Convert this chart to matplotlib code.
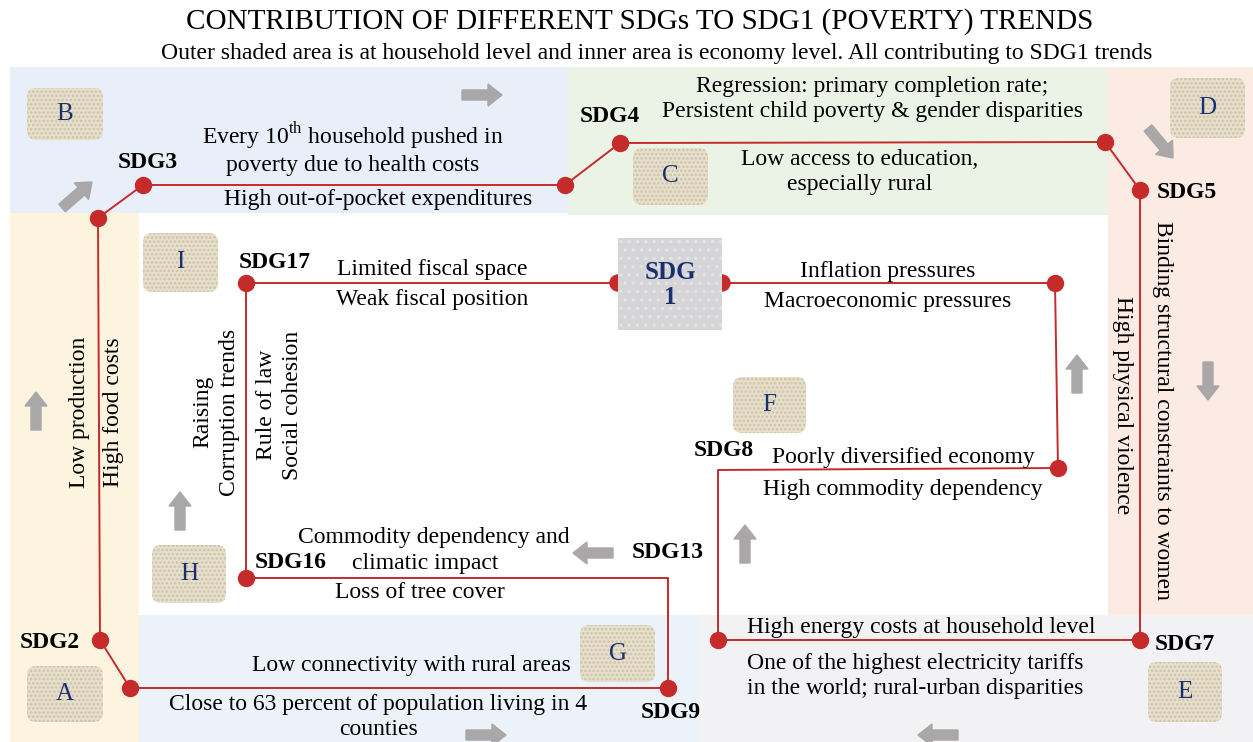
"""
SDG contribution diagram: paths from SDGs toward SDG1 (poverty) trends.
"""

import matplotlib
matplotlib.use("Agg")
import matplotlib.pyplot as plt
from matplotlib.patches import Rectangle, FancyBboxPatch, FancyArrow, Wedge

plt.rcParams["font.family"] = ["Liberation Serif", "DejaVu Serif"]
plt.rcParams["mathtext.fontset"] = "custom"
plt.rcParams["mathtext.rm"] = "Liberation Serif"
plt.rcParams["hatch.linewidth"] = 1.2

W, H = 1253, 742

title = "CONTRIBUTION OF DIFFERENT SDGs TO SDG1 (POVERTY) TRENDS"
subtitle = ("Outer shaded area is at household level and inner area is economy level. "
            "All contributing to SDG1 trends")

# shaded zones: (x0, y0, x1, y1, colour)
zones = [
    (10, 67, 568, 213, "#e8eff9"),
    (568, 67, 1108, 215, "#ebf3e6"),
    (1108, 67, 1253, 615, "#fcebe3"),
    (10, 213, 139, 742, "#fdf4df"),
    (139, 615, 700, 742, "#ecf2fa"),
    (700, 615, 1253, 742, "#f2f2f4"),
]

# lettered boxes
box_letters = ["A", "B", "C", "D", "E", "F", "G", "H", "I"]
box_extents = [
    (27, 666, 103, 722), (27, 88, 103, 140), (633, 148, 708, 205),
    (1170, 78, 1245, 138), (1148, 662, 1222, 722), (733, 377, 806, 433),
    (580, 625, 655, 682), (152, 545, 226, 603), (143, 233, 218, 292),
]

# the red path (outer loop into SDG1 from the right, inner loop from the left)
path_right = [(668, 688), (130, 688), (100, 640), (98, 218), (143, 185), (565, 185),
              (620, 143), (1105, 142), (1140, 190), (1140, 640), (718, 640),
              (718, 470), (1058, 468), (1055, 283), (722, 283)]
path_left = [(618, 283), (246, 283), (246, 578), (668, 578), (668, 688)]
nodes = [(100, 640), (130, 688), (98, 218), (143, 185), (565, 185), (620, 143),
         (1105, 142), (1140, 190), (1140, 640), (718, 640), (1058, 468),
         (1055, 283), (246, 283), (246, 578), (668, 688)]

sdg_names = ["SDG2", "SDG3", "SDG4", "SDG5", "SDG7", "SDG8", "SDG9",
             "SDG13", "SDG16", "SDG17"]
sdg_pos = [(50, 643, "center"), (148, 163, "center"), (610, 117, "center"),
           (1157, 193, "left"), (1155, 645, "left"), (724, 450, "center"),
           (671, 713, "center"), (668, 553, "center"), (291, 562, "center"),
           (275, 263, "center")]

# horizontal captions
captions = [
    "Every 10$^{\\mathrm{th}}$ household pushed in\npoverty due to health costs",
    "High out-of-pocket expenditures",
    "Regression: primary completion rate;\nPersistent child poverty & gender disparities",
    "Low access to education,\nespecially rural",
    "Inflation pressures",
    "Macroeconomic pressures",
    "Limited fiscal space",
    "Weak fiscal position",
    "Poorly diversified economy",
    "High commodity dependency",
    "High energy costs at household level",
    "One of the highest electricity tariffs\nin the world; rural-urban disparities",
    "Commodity dependency and",
    "climatic impact",
    "Loss of tree cover",
    "Low connectivity with rural areas",
    "Close to 63 percent of population living in 4\ncounties",
]
caption_pos = [(353, 148), (378, 200), (872, 99), (860, 172), (888, 272),
               (888, 301), (432, 269), (432, 299), (903, 457), (903, 489),
               (921, 627), (915, 676), (434, 538), (425, 564), (420, 592),
               (411, 665), (378, 717)]

# vertical captions: (text, x, y, rotation)
vcaptions = [
    ("Low production", 80, 412, 90),
    ("High food costs", 113, 412, 90),
    ("Raising", 203, 412, 90),
    ("Corruption trends", 230, 412, 90),
    ("Rule of law", 267, 405, 90),
    ("Social cohesion", 293, 405, 90),
    ("High physical violence", 1123, 405, 270),
    ("Binding structural constraints to women", 1162, 410, 270),
]

# grey block arrows: (x, y, dx, dy)
arrows = [(462, 95, 40, 0), (62, 208, 30, -26), (1148, 128, 25, 30),
          (1208, 362, 0, 38), (1077, 393, 0, -38), (745, 563, 0, -38),
          (613, 553, -40, 0), (180, 530, 0, -38), (36, 430, 0, -38),
          (466, 735, 40, 0), (958, 735, -40, 0)]

RED = "#c62b2b"
GREY = "#a9a7a7"
NAVY = "#1a2f6e"
FS = 17

fig = plt.figure(figsize=(W / 100, H / 100), dpi=100)
ax = fig.add_axes([0, 0, 1, 1])
ax.set_xlim(0, W)
ax.set_ylim(H, 0)
ax.axis("off")

for x0, y0, x1, y1, c in zones:
    ax.add_patch(Rectangle((x0, y0), x1 - x0, y1 - y0, facecolor=c, edgecolor="none", zorder=0))

for letter, (x0, y0, x1, y1) in zip(box_letters, box_extents):
    ax.add_patch(FancyBboxPatch((x0, y0), x1 - x0, y1 - y0,
                                boxstyle="round,pad=0,rounding_size=9",
                                facecolor="#e6dfcc", edgecolor="none", zorder=1))
    ax.add_patch(FancyBboxPatch((x0, y0), x1 - x0, y1 - y0,
                                boxstyle="round,pad=0,rounding_size=9", fill=False,
                                hatch="....", edgecolor="#cdc2a4", linewidth=0, zorder=1))
    ax.text((x0 + x1) / 2, (y0 + y1) / 2, letter, ha="center", va="center",
            fontsize=FS + 1, color=NAVY, zorder=3)

ax.plot(*zip(*path_right), color=RED, lw=1.4, zorder=2)
ax.plot(*zip(*path_left), color=RED, lw=1.4, zorder=2)
ax.plot(*zip(*nodes), "o", color=RED, ms=11.5, mec=RED, zorder=3, ls="none")
ax.add_patch(Wedge((618, 283), 8, 90, 270, color=RED, zorder=3))
ax.add_patch(Wedge((722, 283), 8, -90, 90, color=RED, zorder=3))

# SDG1 core box
ax.add_patch(Rectangle((618, 238), 104, 92, facecolor="#d5d4d7", edgecolor="none", zorder=4))
ax.add_patch(Rectangle((618, 238), 104, 92, fill=False, hatch="..", edgecolor="#e4e4e6",
                       linewidth=0, zorder=4))
ax.text(670, 285, "SDG\n1", ha="center", va="center", fontsize=FS + 1, fontweight="bold",
        color=NAVY, linespacing=1.15, zorder=5)

for name, (x, y, ha) in zip(sdg_names, sdg_pos):
    ax.text(x, y, name, ha=ha, va="center", fontsize=FS, fontweight="bold", zorder=5)

for txt, (x, y) in zip(captions, caption_pos):
    ax.text(x, y, txt, ha="center", va="center", fontsize=FS, linespacing=1.2, zorder=5)

for txt, x, y, rot in vcaptions:
    ax.text(x, y, txt, ha="center", va="center", fontsize=FS, rotation=rot,
            rotation_mode="anchor", zorder=5)

for x, y, dx, dy in arrows:
    ax.add_patch(FancyArrow(x, y, dx, dy, width=10, head_width=22, head_length=14,
                            length_includes_head=True, color=GREY, zorder=2))

ax.text(640, 22, title, ha="center", va="center", fontsize=21)
ax.text(657, 53, subtitle, ha="center", va="center", fontsize=17)

fig.savefig("out.png", dpi=100)
